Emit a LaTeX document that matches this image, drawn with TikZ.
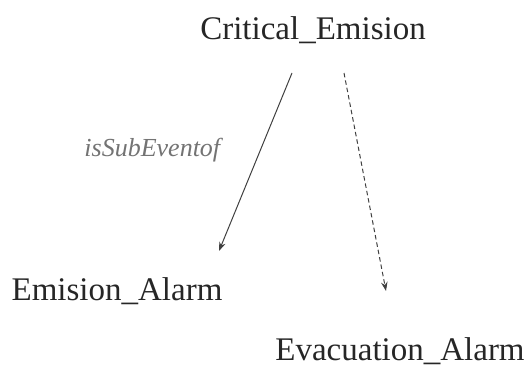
\documentclass[tikz,border=0pt]{standalone}
\usepackage{fontspec}
\setmainfont{Liberation Serif}
\usetikzlibrary{arrows.meta}
\begin{document}
\begin{tikzpicture}[x=1pt, y=1pt,
  event/.style={inner sep=0pt, anchor=base, text=black!85, font=\fontsize{33}{36}\selectfont},
  rel/.style={draw=black!75, line width=1pt, -{Stealth[length=9pt, width=6.5pt]}},
  lbl/.style={inner sep=0pt, text=black!55, font=\fontsize{26}{28}\selectfont\itshape}]
  \useasboundingbox (0,0) rectangle (528,-369);
  \node[event] (crit) at (313,-40) {Critical\_Emision};
  \node[event] (emis) at (117,-300) {Emision\_Alarm};
  \node[event] (evac) at (400,-360) {Evacuation\_Alarm};
  \draw[rel] ([shift={(-21,-33)}]crit.base) -- ([shift={(102,49)}]emis.base)
    node[lbl, pos=0.47, anchor=base east, xshift=-37pt] (sub) {isSubEventof};
  \draw[rel, dash pattern=on 4.5pt off 3pt] ([shift={(31,-33)}]crit.base) -- ([shift={(-14,69)}]evac.base);
\end{tikzpicture}
\end{document}
